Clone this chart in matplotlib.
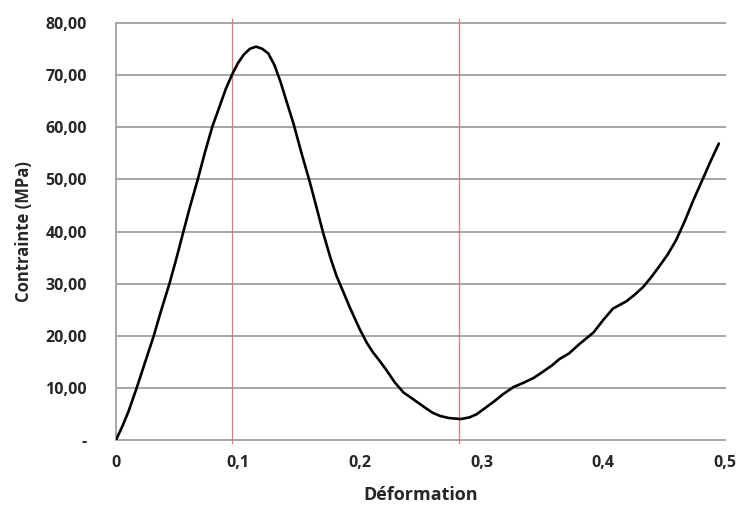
import numpy as np
import matplotlib.pyplot as plt
from matplotlib.ticker import FuncFormatter

plt.rcParams['font.family'] = ['Open Sans', 'DejaVu Sans']

# strain / stress
deformation = [0.000, 0.005, 0.010, 0.017, 0.024, 0.031, 0.037, 0.044, 0.050, 0.055,
               0.061, 0.067, 0.073, 0.079, 0.085, 0.090, 0.095, 0.100, 0.105, 0.110,
               0.115, 0.120, 0.125, 0.130, 0.135, 0.140, 0.146, 0.152, 0.159, 0.164,
               0.170, 0.176, 0.181, 0.187, 0.192, 0.200, 0.206, 0.211, 0.217, 0.222,
               0.229, 0.236, 0.244, 0.253, 0.260, 0.266, 0.273, 0.283, 0.290, 0.296,
               0.303, 0.310, 0.318, 0.326, 0.335, 0.343, 0.350, 0.358, 0.364, 0.372,
               0.380, 0.392, 0.400, 0.408, 0.419, 0.426, 0.433, 0.440, 0.446, 0.453,
               0.460, 0.467, 0.474, 0.482, 0.488, 0.495]
contrainte = [0.0, 2.5, 5.3, 10.0, 15.0, 20.0, 24.8, 30.1, 35.2, 39.7,
              45.0, 49.9, 55.2, 60.1, 64.0, 67.3, 70.0, 72.3, 74.0, 75.1,
              75.5, 75.1, 74.2, 72.0, 68.8, 65.0, 60.5, 55.3, 49.6, 45.2,
              39.8, 35.0, 31.5, 28.2, 25.4, 21.3, 18.6, 16.8, 15.0, 13.4,
              11.0, 9.1, 7.8, 6.3, 5.2, 4.6, 4.2, 4.0, 4.3, 4.9,
              6.1, 7.3, 8.8, 10.1, 11.0, 11.9, 13.0, 14.3, 15.5, 16.6,
              18.3, 20.6, 23.0, 25.2, 26.6, 27.9, 29.4, 31.4, 33.3, 35.6,
              38.4, 42.0, 46.0, 50.2, 53.4, 56.9]
reperes = [0.0954, 0.2816]
x_ticks = [0, 0.1, 0.2, 0.3, 0.4, 0.5]
y_ticks = [0, 10, 20, 30, 40, 50, 60, 70, 80]

fig = plt.figure(figsize=(7.39, 5.05), dpi=100)
ax = fig.add_axes([0.157, 0.129, 0.824, 0.825])

for y in y_ticks:
    ax.axhline(y, color='#a6a6a6', lw=1.4, zorder=1, clip_on=False)
for x in reperes:
    ax.axvline(x, ymin=-0.008, ymax=1.01, color='#e07878', lw=0.9, zorder=2, clip_on=False)

ax.plot(deformation, contrainte, color='black', lw=1.9, zorder=3,
        solid_joinstyle='round', solid_capstyle='round')

ax.set_xlim(0, 0.5)
ax.set_ylim(0, 80)
ax.set_xticks(x_ticks)
ax.set_yticks(y_ticks)

def fmt_x(v, pos):
    return '0' if v == 0 else ('%g' % v).replace('.', ',')

def fmt_y(v, pos):
    return '-' if v == 0 else ('%.2f' % v).replace('.', ',')

ax.xaxis.set_major_formatter(FuncFormatter(fmt_x))
ax.yaxis.set_major_formatter(FuncFormatter(fmt_y))

for s in ['top', 'right', 'bottom']:
    ax.spines[s].set_visible(False)
ax.spines['left'].set_color('#a6a6a6')
ax.spines['left'].set_linewidth(1.4)

ax.tick_params(length=0, labelsize=11.5, colors='#262626')
ax.tick_params(axis='y', pad=21)
ax.tick_params(axis='x', pad=11)
for lab in ax.get_xticklabels() + ax.get_yticklabels():
    lab.set_fontweight('bold')

ax.set_xlabel('Déformation', fontsize=13, fontweight='bold', color='#262626', labelpad=11)
ax.set_ylabel('Contrainte (MPa)', fontsize=12, fontweight='bold', color='#262626', labelpad=9)

plt.savefig('out.png', dpi=100)
